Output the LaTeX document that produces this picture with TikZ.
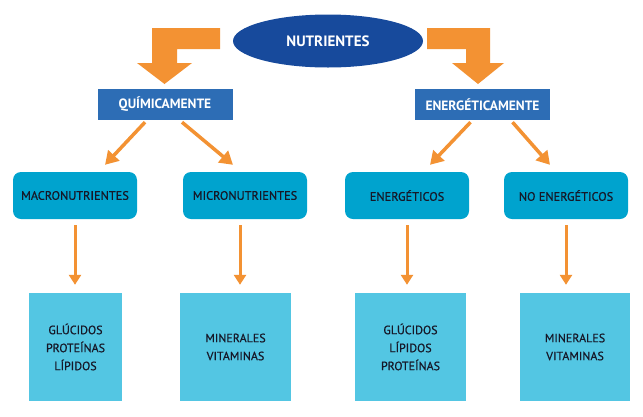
\documentclass[tikz,border=0pt]{standalone}
\usepackage{fontspec}
\setmainfont{PT Sans}
\newfontfamily\semifont[FakeBold=0.6]{PT Sans}
\usetikzlibrary{arrows.meta,shapes.geometric}

\definecolor{navy}{RGB}{23,74,156}
\definecolor{midblue}{RGB}{45,109,181}
\definecolor{orangearr}{RGB}{243,146,51}
\definecolor{tealbox}{RGB}{0,163,206}
\definecolor{skybox}{RGB}{83,198,227}
\definecolor{inktext}{RGB}{22,24,40}

\tikzset{
  topnode/.style={ellipse, fill=navy, text=white, font=\bfseries\fontsize{15}{17}\selectfont,
    minimum width=190pt, minimum height=53pt, inner sep=0pt},
  critbox/.style={rectangle, fill=midblue, text=white, font=\bfseries\fontsize{13.5}{15}\selectfont,
    minimum width=135pt, minimum height=31pt, inner sep=0pt},
  groupbox/.style={rectangle, rounded corners=8pt, fill=tealbox, text=inktext,
    font=\semifont\fontsize{12.3}{14}\selectfont, minimum width=124pt, minimum height=47pt, inner sep=0pt},
  listbox/.style={rectangle, fill=skybox, text=inktext, align=center,
    font=\semifont\fontsize{12}{18}\selectfont, minimum height=108pt, inner sep=0pt},
  bigarrow/.style={fill=orangearr},
  slantarr/.style={draw=orangearr, line width=3.5pt, -{Triangle[length=13pt,width=15pt]}},
  downarr/.style={draw=orangearr, line width=3pt, -{Triangle[length=10pt,width=12pt]},
    shorten <=6pt, shorten >=8pt}
}

\begin{document}
\begin{tikzpicture}[x=1pt,y=-1pt]
    \useasboundingbox (0,0) rectangle (643,416);

    % Top of the map
    \node[topnode] (nut) at (328,41) {NUTRIENTES};

    % Bent arrows to both criteria
    \fill[bigarrow] (220,28) -- (152,28) -- (152,63) -- (137,63) -- (164.5,84)
      -- (192,63) -- (177,63) -- (177,49) -- (220,49) -- cycle;
    \fill[bigarrow] (427,28) -- (490,28) -- (490,63) -- (504,63) -- (478,84)
      -- (452,63) -- (466,63) -- (466,49) -- (427,49) -- cycle;

    % Criteria
    \node[critbox] (quim) at (165,104.5) {QUÍMICAMENTE};
    \node[critbox] (energ) at (482.5,104.5) {ENERGÉTICAMENTE};

    % Groups
    \node[groupbox] (macro) at (75,195.5) {MACRONUTRIENTES};
    \node[groupbox] (micro) at (245,195.5) {MICRONUTRIENTES};
    \node[groupbox] (ener) at (407,195.5) {ENERGÉTICOS};
    \node[groupbox] (noener) at (566,195.5) {NO ENERGÉTICOS};

    \draw[slantarr] ([xshift=-20pt,yshift=-2pt]quim.south) -- ([xshift=30pt,yshift=7pt]macro.north);
    \draw[slantarr] ([xshift=17pt,yshift=-2pt]quim.south) -- ([xshift=-12pt,yshift=7pt]micro.north);
    \draw[slantarr] ([xshift=-12pt,yshift=-2pt]energ.south) -- ([xshift=23pt,yshift=7pt]ener.north);
    \draw[slantarr] ([xshift=30pt,yshift=-2pt]energ.south) -- ([xshift=-16pt,yshift=7pt]noener.north);

    % Members of each group
    \node[listbox, minimum width=93pt] (list1) at (75.5,347) {GLÚCIDOS\\PROTEÍNAS\\LÍPIDOS};
    \node[listbox, minimum width=111pt] (list2) at (235.5,347) {MINERALES\\VITAMINAS};
    \node[listbox, minimum width=111pt] (list3) at (410.5,347) {GLÚCIDOS\\LÍPIDOS\\PROTEÍNAS};
    \node[listbox, minimum width=110pt] (list4) at (575,347) {MINERALES\\VITAMINAS};

    \draw[downarr] (macro.south) -- (macro.south |- list1.north);
    \draw[downarr] ([xshift=-5pt]micro.south) -- ([xshift=-5pt]micro.south |- list2.north);
    \draw[downarr] (ener.south) -- (ener.south |- list3.north);
    \draw[downarr] (noener.south) -- (noener.south |- list4.north);
\end{tikzpicture}
\end{document}
